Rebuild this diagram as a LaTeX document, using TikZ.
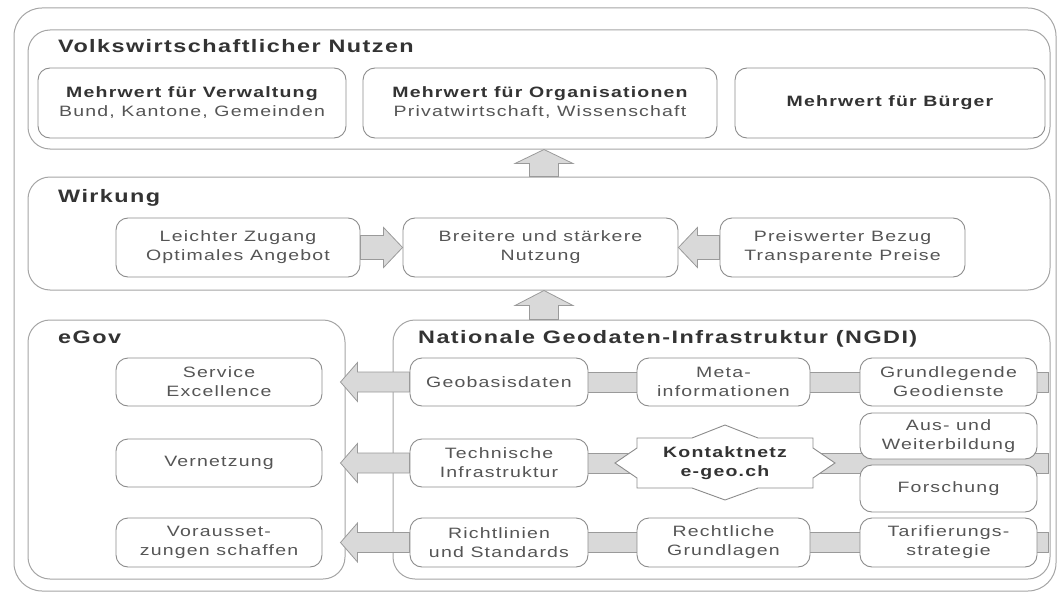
\documentclass[tikz,border=0pt]{standalone}
\usepackage{fontspec}
\setmainfont{Liberation Sans}[FakeStretch=1.3,LetterSpace=8]
\usetikzlibrary{calc,backgrounds}
\definecolor{fgray}{HTML}{D9D9D9}
\definecolor{agray}{HTML}{9A9A9A}
\definecolor{mgray}{HTML}{8C8C8C}
\definecolor{lgray}{HTML}{A5A5A5}
\definecolor{txt}{HTML}{555555}
\definecolor{ttxt}{HTML}{333333}
\newcommand{\bt}[1]{{\bfseries\color{ttxt}#1}}
% arrow macros: tail, tip, head length, head half width, shaft half width
\newcommand{\arrowU}[5]{\filldraw[bigarrow] let \p1=(#1), \p2=(#2) in
  (\x2-#5,\y1) -- (\x2-#5,\y2-#3) -- (\x2-#4,\y2-#3) -- (\x2,\y2) --
  (\x2+#4,\y2-#3) -- (\x2+#5,\y2-#3) -- (\x2+#5,\y1) -- cycle;}
\newcommand{\arrowL}[5]{\filldraw[bigarrow] let \p1=(#1), \p2=(#2) in
  (\x1,\y2+#5) -- (\x2+#3,\y2+#5) -- (\x2+#3,\y2+#4) -- (\x2,\y2) --
  (\x2+#3,\y2-#4) -- (\x2+#3,\y2-#5) -- (\x1,\y2-#5) -- cycle;}
\newcommand{\arrowR}[5]{\filldraw[bigarrow] let \p1=(#1), \p2=(#2) in
  (\x1,\y2+#5) -- (\x2-#3,\y2+#5) -- (\x2-#3,\y2+#4) -- (\x2,\y2) --
  (\x2-#3,\y2-#4) -- (\x2-#3,\y2-#5) -- (\x1,\y2-#5) -- cycle;}
\tikzset{
  big/.style={draw=lgray, line width=1pt, rounded corners=22pt, inner sep=0pt},
  sbox/.style={draw=mgray, line width=0.9pt, rounded corners=12pt, fill=white,
    align=center, text=txt, font=\fontsize{15}{19}\selectfont, inner sep=0pt},
  ttl/.style={font=\fontsize{18}{22}\selectfont\bfseries, text=ttxt,
    anchor=base west, inner sep=0pt},
  bar/.style={fill=fgray, draw=agray, line width=0.8pt},
  bigarrow/.style={fill=fgray, draw=agray, line width=0.8pt},
  startxt/.style={align=center, text=ttxt, font=\fontsize{15}{19}\selectfont\bfseries, inner sep=0pt}
}
\begin{document}
\begin{tikzpicture}[x=1pt,y=-1pt]
\useasboundingbox (0,0) rectangle (1058,594);
% outer and section boxes
\node[big, rounded corners=28pt, minimum width=1042pt, minimum height=583pt] (outer) at (535,299.5) {};
\node[big, minimum width=1022pt, minimum height=119pt] (vbox) at (539,89.5) {};
\node[big, minimum width=1022pt, minimum height=113pt] (wbox) at (539,233.5) {};
\node[big, minimum width=317pt, minimum height=259pt] (egov) at (186.5,449.5) {};
\node[big, minimum width=657pt, minimum height=259pt] (ngdi) at (721.5,449.5) {};
% titles
\node[ttl] (tv) at (58,53) {Volkswirtschaftlicher Nutzen};
\node[ttl] (tw) at (58,202) {Wirkung};
\node[ttl] (te) at (58,343) {eGov};
\node[ttl] (tn) at (418,343) {Nationale Geodaten-Infrastruktur (NGDI)};
% Volkswirtschaftlicher Nutzen
\node[sbox, minimum width=308pt, minimum height=70pt] (v1) at (192,103) {\bt{Mehrwert für Verwaltung}\\Bund, Kantone, Gemeinden};
\node[sbox, minimum width=354pt, minimum height=70pt] (v2) at (540,103) {\bt{Mehrwert für Organisationen}\\Privatwirtschaft, Wissenschaft};
\node[sbox, minimum width=310pt, minimum height=70pt] (v3) at (890,103) {\bt{Mehrwert für Bürger}};
% Wirkung
\node[sbox, minimum width=244pt, minimum height=59pt] (w1) at (238,247.5) {Leichter Zugang\\Optimales Angebot};
\node[sbox, minimum width=275pt, minimum height=59pt] (w2) at (540.5,247.5) {Breitere und stärkere\\Nutzung};
\node[sbox, minimum width=245pt, minimum height=59pt] (w3) at (842.5,247.5) {Preiswerter Bezug\\Transparente Preise};
% eGov
\node[sbox, minimum width=206pt, minimum height=48pt] (e1) at (219,382) {Service\\Excellence};
\node[sbox, minimum width=206pt, minimum height=48pt] (e2) at (219,463) {Vernetzung};
\node[sbox, minimum width=206pt, minimum height=49pt] (e3) at (219,542.5) {Vorausset-\\zungen schaffen};
% NGDI
\node[sbox, minimum width=178pt, minimum height=48pt] (n11) at (499,382) {Geobasisdaten};
\node[sbox, minimum width=173pt, minimum height=48pt] (n12) at (723.5,382) {Meta-\\informationen};
\node[sbox, minimum width=177pt, minimum height=48pt] (n13) at (948.5,382) {Grundlegende\\Geodienste};
\node[sbox, minimum width=178pt, minimum height=48pt] (n21) at (499,463) {Technische\\Infrastruktur};
\node[sbox, minimum width=177pt, minimum height=46pt] (n23a) at (948.5,436) {Aus- und\\Weiterbildung};
\node[sbox, minimum width=177pt, minimum height=47pt] (n23b) at (948.5,488.5) {Forschung};
\node[sbox, minimum width=178pt, minimum height=49pt] (n31) at (499,542.5) {Richtlinien\\und Standards};
\node[sbox, minimum width=173pt, minimum height=49pt] (n32) at (723.5,542.5) {Rechtliche\\Grundlagen};
\node[sbox, minimum width=177pt, minimum height=49pt] (n33) at (948.5,542.5) {Tarifierungs-\\strategie};
% star
\coordinate (sc) at (725,463);
\begin{scope}[shift={(sc)}]
\filldraw[draw=mgray, line width=0.9pt, fill=white]
  (-88,-25) -- (-33,-25) -- (0,-38) -- (33,-25) -- (88,-25) -- (88,-15) -- (110,0) --
  (88,15) -- (88,25) -- (33,25) -- (0,37) -- (-33,25) -- (-88,25) -- (-88,15) --
  (-110,0) -- (-88,-15) -- cycle;
\end{scope}
\node[startxt] (star) at (sc) {Kontaktnetz\\e-geo.ch};
% connecting bars (behind)
\begin{pgfonlayer}{background}
\filldraw[bar] let \p1=(n11.center), \p2=(n13.east) in (\x1,\y1+10pt) rectangle (\x2+11pt,\y1-10pt);
\filldraw[bar] let \p1=(n21.center), \p2=(n23a.east), \p3=(star.center) in (\x1,\y3+10pt) rectangle (\x2+11pt,\y3-10pt);
\filldraw[bar] let \p1=(n31.center), \p2=(n33.east) in (\x1,\y1+10pt) rectangle (\x2+11pt,\y1-10pt);
\end{pgfonlayer}
% big arrows
\coordinate (ua) at (544,0);
\arrowU{ua |- wbox.north}{ua |- vbox.south}{14pt}{29pt}{14.5pt}
\arrowU{ua |- ngdi.north}{ua |- wbox.south}{15pt}{29pt}{14.5pt}
\arrowR{w1.east}{w2.west}{19pt}{20pt}{12pt}
\arrowL{w3.west}{w2.east}{19pt}{20pt}{12pt}
\coordinate (t1) at ($(egov.east |- n11.west)+(-5,0)$);
\coordinate (t2) at ($(egov.east |- n21.west)+(-5,0)$);
\coordinate (t3) at ($(egov.east |- n31.west)+(-5,0)$);
\arrowL{n11.west}{t1}{17pt}{19.5pt}{10pt}
\arrowL{n21.west}{t2}{17pt}{19.5pt}{10pt}
\arrowL{n31.west}{t3}{17pt}{19.5pt}{10pt}
\end{tikzpicture}
\end{document}
